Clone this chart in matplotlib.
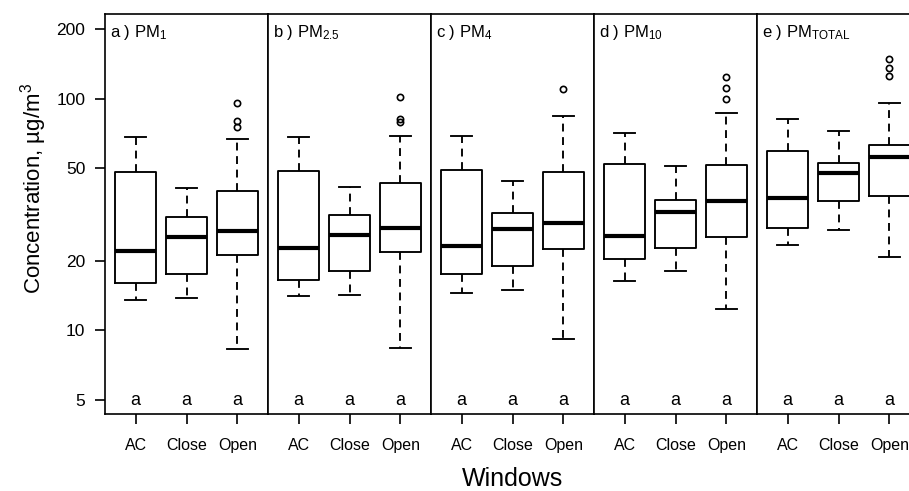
"""Boxplots of PM concentration by window state, one panel per size fraction."""

import matplotlib
matplotlib.use("Agg")
import matplotlib.pyplot as plt
from matplotlib.ticker import NullLocator

plt.rcParams["font.family"] = ["Liberation Sans", "DejaVu Sans"]
plt.rcParams["mathtext.default"] = "regular"

## Data (log scale).
groups = ["AC", "Close", "Open"]
panel_titles = ["a ) PM$_{1}$", "b ) PM$_{2.5}$", "c ) PM$_{4}$",
                "d ) PM$_{10}$", "e ) PM$_{TOTAL}$"]
letters = [["a", "a", "a"]] * 5

whisker_low = [[13.5, 13.8, 8.3],
               [14.1, 14.2, 8.4],
               [14.5, 14.9, 9.15],
               [16.3, 18.1, 12.3],
               [23.4, 27.2, 20.7]]
q1 = [[16.0, 17.5, 21.2],
      [16.5, 18.1, 21.7],
      [17.5, 18.9, 22.5],
      [20.4, 22.6, 25.4],
      [27.6, 36.2, 38.1]]
median = [[22.1, 25.3, 26.8],
          [22.7, 25.8, 27.6],
          [23.2, 27.3, 29.1],
          [25.5, 32.4, 36.0],
          [37.4, 47.6, 56.2]]
q3 = [[48.4, 30.9, 40.0],
      [48.5, 31.3, 43.3],
      [49.1, 32.2, 48.3],
      [52.2, 36.5, 51.6],
      [59.6, 52.9, 62.9]]
whisker_high = [[68.4, 41.3, 66.8],
                [68.5, 41.5, 69.0],
                [69.0, 44.0, 84.5],
                [70.9, 51.4, 86.5],
                [82.0, 72.8, 95.5]]
outliers = [[[], [], [95.5, 80.4, 75.7]],
            [[], [], [101.4, 81.7, 79.6]],
            [[], [], [110.0]],
            [[], [], [124.5, 111.6, 99.7]],
            [[], [], [147.9, 135.3, 125.3]]]

y_ticks = [5, 10, 20, 50, 100, 200]

## Figure layout in pixels (909 x 491).
W, H = 909, 491
fig = plt.figure(figsize=(W / 100, H / 100), dpi=100)

panel_left = 105
panel_w = 163
panel_top = 14
panel_bottom = 414

positions = [1, 2, 3]

for i in range(5):
    left = panel_left + i * panel_w
    ax = fig.add_axes([left / W, (H - panel_bottom) / H,
                       panel_w / W, (panel_bottom - panel_top) / H])

    stats = []
    for j, g in enumerate(groups):
        stats.append(dict(
            label=g,
            whislo=whisker_low[i][j],
            q1=q1[i][j],
            med=median[i][j],
            q3=q3[i][j],
            whishi=whisker_high[i][j],
            fliers=outliers[i][j],
        ))

    ax.bxp(
        stats,
        positions=positions,
        widths=0.8,
        capwidths=0.42,
        boxprops=dict(color="black", linewidth=1.35),
        medianprops=dict(color="black", linewidth=3.0, solid_capstyle="butt"),
        whiskerprops=dict(color="black", linewidth=1.35, linestyle=(0, (4.2, 3))),
        capprops=dict(color="black", linewidth=1.35),
        flierprops=dict(marker="o", markerfacecolor="none",
                        markeredgecolor="black", markersize=4.5,
                        markeredgewidth=1.2),
    )

    ax.set_yscale("log")
    ax.set_ylim(4.35, 232)
    ax.set_xlim(0.4, 3.6)
    ax.yaxis.set_minor_locator(NullLocator())

    ax.set_xticks(positions)
    ax.set_xticklabels(groups, fontsize=11.5)
    ax.tick_params(axis="x", length=7.2, width=1.2, pad=10, direction="out")

    if i == 0:
        ax.set_yticks(y_ticks)
        ax.set_yticklabels([str(t) for t in y_ticks], fontsize=12.5)
        ax.tick_params(axis="y", length=7.2, width=1.2, pad=7, direction="out")
    else:
        ax.set_yticks([])

    for spine in ax.spines.values():
        spine.set_linewidth(1.2)
        spine.set_color("black")

    # Panel title.
    ax.text(0.03, 0.943, panel_titles[i], transform=ax.transAxes,
            ha="left", va="baseline", fontsize=12)

    # Significance letters along the bottom.
    for pos, letter in zip(positions, letters[i]):
        ax.annotate(letter, (pos, 5), xytext=(0, -3.6),
                    textcoords="offset points", ha="center", va="baseline",
                    fontsize=13)

fig.text(34 / W, 1 - 189 / H, "Concentration, µg/m$^{3}$", rotation=90,
         ha="center", va="center", fontsize=16)
fig.text(512.5 / W, 1 - 479 / H, "Windows", ha="center", va="center",
         fontsize=18)

fig.savefig("out.png", dpi=100)
